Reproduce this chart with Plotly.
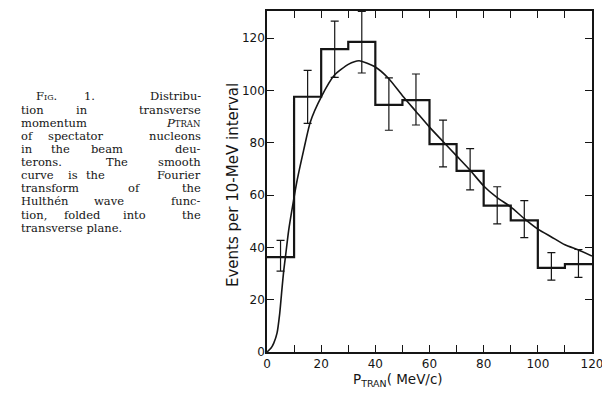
import plotly.graph_objects as go

# ---------------- data ----------------
bin_left = [0, 10, 20, 30, 40, 50, 60, 70, 80, 90, 100, 110]
bin_width = 10
counts = [36.3, 97.6, 115.8, 118.6, 94.5, 96.3, 79.5, 69.3, 56.0, 50.3, 32.2, 33.6]
err_plus = [6.4, 10.1, 10.7, 11.6, 10.3, 10.0, 9.2, 8.5, 7.2, 7.6, 5.8, 5.6]
err_minus = [5.4, 10.2, 10.8, 11.9, 9.7, 9.5, 8.7, 7.3, 7.0, 6.6, 4.7, 5.1]

curve_x = [0, 1.5, 2.5, 3.7, 4.7, 5.6, 6.2, 6.8, 8, 9.6, 11.1, 13.5, 16, 20, 25, 30, 34,
           40, 45, 50, 55, 60, 65, 70, 75, 80, 85, 90, 95, 100, 105, 110, 115, 120]
curve_y = [0, 1.5, 3.4, 7.2, 14.8, 25, 31.3, 36.3, 46.5, 56.7, 65.5, 77, 88, 97.5, 106, 110, 111.4,
           109, 104.5, 98, 92, 86, 80.5, 75, 69.5, 63.5, 59, 55.5, 51, 47, 44, 41, 39, 36.7]

x_ticks = [0, 20, 40, 60, 80, 100, 120]
y_ticks = [0, 20, 40, 60, 80, 100, 120]

x_title = "P<sub>TRAN</sub>( MeV/c)"
y_title = "Events per 10-MeV interval"

caption_lines = [
    ["Fig.", "1.", "Distribu-"],
    ["tion", "in", "transverse"],
    ["momentum", "<i>P</i><span style='font-size:8.5px'>TRAN</span>"],
    ["of", "spectator", "nucleons"],
    ["in", "the", "beam", "deu-"],
    ["terons.", "The", "smooth"],
    ["curve", "is", "the", "Fourier"],
    ["transform", "of", "the"],
    ["Hulthén", "wave", "func-"],
    ["tion,", "folded", "into", "the"],
    ["transverse plane."],
]

# ---------------- layout helpers ----------------
# the page body has an 8px margin, so the figure is drawn 8px in from the window corner
OFF = 8
W, H = 602, 380
ML, MR, MT, MB = 259, 18, 1, 36
PW, PH = W - ML - MR, H - MT - MB


def xp(px):  # window pixel -> paper
    return (px - OFF - ML) / PW


def yp(py):
    return (H - MB - (py - OFF)) / PH


INK = "#151515"

edges = bin_left + [bin_left[-1] + bin_width]
step_y = counts + [counts[-1]]
centers = [b + bin_width / 2 for b in bin_left]

fig = go.Figure()
fig.add_trace(go.Scatter(x=edges, y=step_y, mode="lines",
                         line=dict(shape="hv", width=2.2, color=INK),
                         hoverinfo="skip"))
fig.add_trace(go.Scatter(x=curve_x, y=curve_y, mode="lines",
                         line=dict(shape="spline", smoothing=0.6, width=1.6, color=INK)))
fig.add_trace(go.Scatter(x=centers, y=counts, mode="markers",
                         marker=dict(size=1, color="rgba(0,0,0,0)"),
                         error_y=dict(type="data", symmetric=False, array=err_plus,
                                      arrayminus=err_minus, width=4, thickness=1.2,
                                      color=INK)))

axis_common = dict(showline=True, linewidth=1.6, linecolor=INK, mirror="ticks",
                   ticks="inside", ticklen=7, tickwidth=1.2, tickcolor=INK,
                   showgrid=False, zeroline=False,
                   tickfont=dict(family="DejaVu Sans", size=12, color=INK))

fig.update_xaxes(range=[0, 120], tickvals=x_ticks,
                 minor=dict(dtick=10, ticks="inside", ticklen=7, tickwidth=1.2, tickcolor=INK),
                 **axis_common)
fig.update_yaxes(range=[0, 130.4], tickvals=y_ticks, ticklabelstandoff=-2, **axis_common)

ann = []
# axis titles
ann.append(dict(text=y_title, x=xp(233), y=yp(184), xref="paper", yref="paper",
                textangle=-90, showarrow=False, xanchor="center", yanchor="middle",
                font=dict(family="DejaVu Sans", size=15, color=INK)))
ann.append(dict(text=x_title, x=xp(398), y=yp(380), xref="paper", yref="paper",
                showarrow=False, xanchor="center", yanchor="middle",
                font=dict(family="DejaVu Sans", size=13.5, color=INK)))

# caption: justified-looking placement of words
line_y = [95, 108.2, 121.4, 134.6, 147.8, 161, 174.2, 187.4, 200.6, 213.8, 227]
word_x = [
    [35, 83, None],
    [20, 75, None],
    [20, None],
    [20, 47, None],
    [20, 50, 90, None],
    [20, 105, None],
    [20, 67, 85, None],
    [20, 127, None],
    [20, 93, None],
    [20, 63, 122, None],
    [20],
]
RIGHT = 202
CAP_SIZE = 11.5
for words, xs, ly in zip(caption_lines, word_x, line_y):
    for w, wx in zip(words, xs):
        f = dict(family="DejaVu Serif", size=CAP_SIZE, color=INK)
        if w == "Fig.":
            f["variant"] = "small-caps"
        if wx is None:
            ann.append(dict(text=w, x=xp(RIGHT), y=yp(ly), xref="paper", yref="paper",
                            showarrow=False, xanchor="right", yanchor="middle",
                            borderpad=0, font=f))
        else:
            ann.append(dict(text=w, x=xp(wx), y=yp(ly), xref="paper", yref="paper",
                            showarrow=False, xanchor="left", yanchor="middle",
                            borderpad=0, font=f))

fig.update_layout(width=W, height=H, margin=dict(l=ML, r=MR, t=MT, b=MB),
                  paper_bgcolor="white", plot_bgcolor="white", showlegend=False,
                  annotations=ann)

fig.write_html("out.html")
